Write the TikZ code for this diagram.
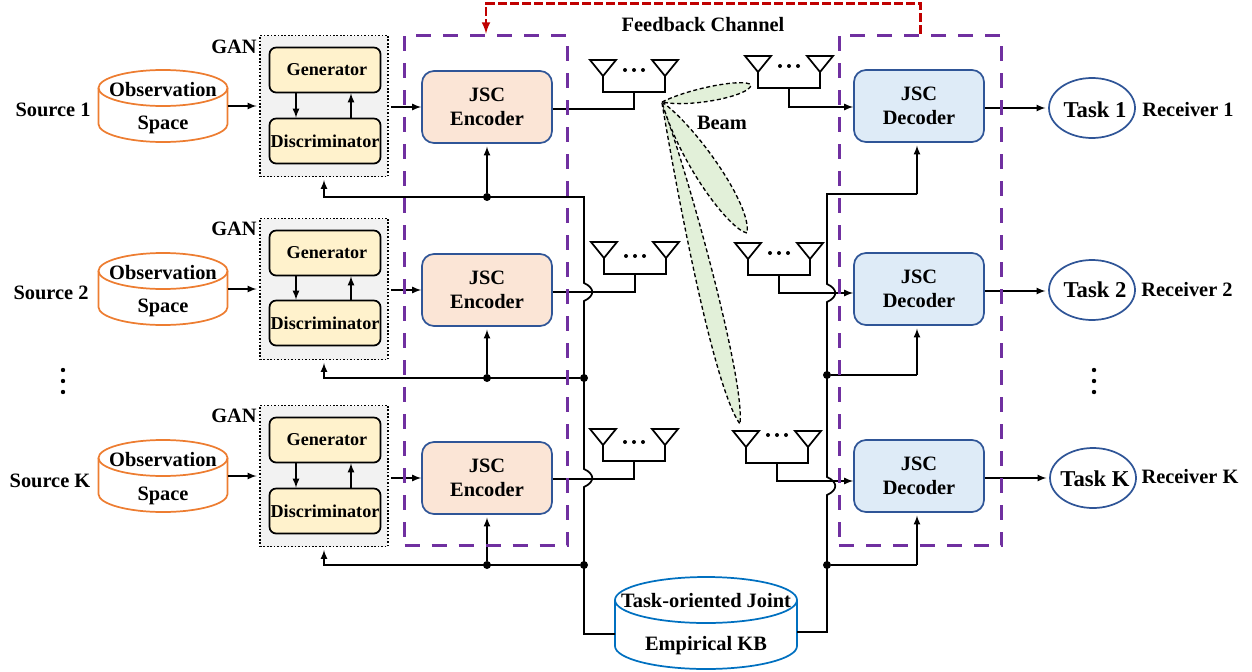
\documentclass[tikz,border=0pt]{standalone}
\usepackage{xcolor}
\usepackage{fontspec}
\setmainfont{Liberation Serif}
\usetikzlibrary{shapes, arrows, positioning, backgrounds}
\definecolor{obscol}{HTML}{ED7D31}
\definecolor{kbcol}{HTML}{0070C0}
\definecolor{boxcol}{HTML}{2F5597}
\definecolor{enccol}{HTML}{FBE5D6}
\definecolor{deccol}{HTML}{DEEBF7}
\definecolor{gencol}{HTML}{FFF2CC}
\definecolor{gancol}{HTML}{F2F2F2}
\definecolor{beamcol}{HTML}{E2F0D9}
\definecolor{jsccol}{HTML}{7030A0}
\definecolor{fbcol}{HTML}{C00000}
\begin{document}
\begin{tikzpicture}[x=0.75pt, y=-0.75pt, >=latex,
    lnk/.style={line width=1.3pt},
    txt/.style={font=\bfseries\fontsize{15.3}{18}\selectfont, inner sep=0pt},
    enc/.style={draw=boxcol, fill=enccol, line width=1.3pt, rounded corners=9pt, minimum width=97.5pt, minimum height=54pt, align=center, font=\bfseries\fontsize{15.3}{18.5}\selectfont, execute at begin node=\rule{0pt}{12pt}},
    dec/.style={enc, fill=deccol},
    gan/.style={draw, fill=gancol, line width=1.2pt, dash pattern=on 1.2pt off 1.4pt, minimum width=96pt, minimum height=105.75pt},
    gen/.style={draw, fill=gencol, line width=1.3pt, rounded corners=5pt, inner sep=0pt, minimum width=83.25pt, minimum height=33.75pt, font=\bfseries\fontsize{13.6}{16}\selectfont},
    task/.style={draw=boxcol, ellipse, line width=1.3pt, inner sep=0pt, minimum width=64.5pt, minimum height=45pt},
    tasktxt/.style={txt, font=\bfseries\fontsize{17}{20}\selectfont},
    jsc/.style={draw=jsccol, line width=2.2pt, dash pattern=on 11.25pt off 9pt, minimum width=122pt, minimum height=383pt},
    beam/.style={draw, fill=beamcol, densely dashed, line width=1pt},
    dot/.style={circle, fill, inner sep=0pt, minimum size=6pt},
    pics/store/.style n args={4}{code={
      \draw[lnk, draw=#4] (-#1,#3) -- (-#1,-#3) arc[start angle=180, end angle=360, x radius=#1, y radius=#2] -- (#1,#3);
      \draw[lnk, draw=#4] (0pt,#3) ellipse [x radius=#1, y radius=#2];
      \coordinate (-w) at (-#1,0pt);
      \coordinate (-e) at (#1,0pt);
    }},
    pics/antennas/.style={code={
      \draw[lnk] (-44,0) -- (-18,0) -- (-31,16) -- cycle;
      \draw[lnk] (18,0) -- (44,0) -- (31,16) -- cycle;
      \draw[lnk] (-31,16) -- (-31,32) -- (31,32) -- (31,16);
      \foreach \dx in {-9,0,9} \fill (\dx,#1) circle (2);
      \coordinate (-bar) at (0,32);
    }}]

  \useasboundingbox (0,0) rectangle (1252,671);

  \node[txt] (src_1) at (53,110) {Source 1};
  \node[txt] (src_2) at (51,293) {Source 2};
  \node[txt] (src_K) at (50,481) {Source K};

  \pic (obs_1) at (163,106) {store={48.4pt}{13.5pt}{13.5pt}{obscol}};
  \pic (obs_2) at (163,289) {store={48.4pt}{13.5pt}{13.5pt}{obscol}};
  \pic (obs_3) at (163,476) {store={48.4pt}{13.5pt}{13.5pt}{obscol}};
  \node[txt] (ot_1) at (163,90)  {Observation};
  \node[txt] (st_1) at (163,125) {Space};
  \node[txt] (ot_2) at (163,273) {Observation};
  \node[txt] (st_2) at (163,308) {Space};
  \node[txt] (ot_3) at (163,460) {Observation};
  \node[txt] (st_3) at (163,496) {Space};

  \node[gan] (gan_1) at (324,106) {};
  \node[gan] (gan_2) at (324,289) {};
  \node[gan] (gan_3) at (324,476) {};
  \node[txt] (gl_1) at (234,47)  {GAN};
  \node[txt] (gl_2) at (234,229) {GAN};
  \node[txt] (gl_3) at (234,416) {GAN};

  \node[gen] (gen_1) at (325,70)  {\hspace*{3pt}Generator};
  \node[gen] (dis_1) at (325,141) {Discriminator};
  \node[gen] (gen_2) at (325,253) {\hspace*{3pt}Generator};
  \node[gen] (dis_2) at (325,323) {Discriminator};
  \node[gen] (gen_3) at (325,440) {\hspace*{3pt}Generator};
  \node[gen] (dis_3) at (325,511) {Discriminator};

  \node[enc] (enc_1) at (487,107) {JSC\\Encoder};
  \node[enc] (enc_2) at (487,290) {JSC\\Encoder};
  \node[enc] (enc_3) at (487,478) {JSC\\Encoder};
  \node[dec] (dec_1) at (919,106) {JSC\\Decoder};
  \node[dec] (dec_2) at (919,289) {JSC\\Decoder};
  \node[dec] (dec_3) at (919,476) {JSC\\Decoder};

  \node[task] (task_1) at (1092,108) {};
  \node[task] (task_2) at (1092,290) {};
  \node[task] (task_3) at (1093,478) {};
  \node[tasktxt] (tt_1) at (1095,110) {Task 1};
  \node[tasktxt] (tt_2) at (1095,290) {Task 2};
  \node[tasktxt] (tt_3) at (1095,479) {Task K};
  \node[txt] (rcv_1) at (1188,110) {Receiver 1};
  \node[txt] (rcv_2) at (1187,290) {Receiver 2};
  \node[txt] (rcv_K) at (1190,477) {Receiver K};

  \pic (kb_0) at (706,623) {store={68.25pt}{17.25pt}{17.25pt}{kbcol}};
  \node[txt] (kt_1) at (706,601) {Task-oriented Joint};
  \node[txt] (kt_2) at (706,646) {Empirical KB};

  \draw[beam] (662,103) .. controls (680,210) and (715,390) .. (740,424)
    .. controls (745,380) and (690,180) .. (662,103) -- cycle;
  \draw[beam] (662,102) .. controls (695,125) and (752,205) .. (747,233)
    .. controls (730,230) and (680,165) .. (662,102) -- cycle;
  \draw[beam] (662,102) .. controls (690,88) and (745,78) .. (751,85)
    .. controls (750,96) and (690,108) .. (662,102) -- cycle;
  \node[txt] (bl_1) at (722,123) {Beam};
  \node[txt] (fb_1) at (703,25)  {Feedback Channel};

  \pic (tx_1) at (634,60)  {antennas=10};
  \pic (tx_2) at (635,242) {antennas=14};
  \pic (tx_3) at (634,429) {antennas=13};
  \pic (rx_1) at (789,56)  {antennas=10};
  \pic (rx_2) at (779,243) {antennas=10};
  \pic (rx_3) at (777,431) {antennas=4};

  \node[dot] (jl_2) at (584,378) {};
  \node[dot] (jl_3) at (584,565) {};
  \node[dot] (je_1) at (487,197) {};
  \node[dot] (je_2) at (487,378) {};
  \node[dot] (je_3) at (487,565) {};
  \node[dot] (jr_2) at (827,375) {};
  \node[dot] (jr_3) at (827,565) {};
  \coordinate (tl_1) at (584,197);
  \coordinate (tr_1) at (917,194);
  \coordinate (tr_2) at (917,375);
  \coordinate (tr_3) at (917,565);
  \coordinate (kb_w) at (615,634);
  \coordinate (kb_e) at (797,632);

  \path[lnk, ->, shorten >=2pt]
    (obs_1-e) edge (gan_1.west)
    (obs_2-e) edge (gan_2.west)
    (obs_3-e) edge (gan_3.west)
    (je_1) edge (enc_1.south)
    (je_2) edge (enc_2.south)
    (je_3) edge (enc_3.south)
    (tr_1) edge (tr_1 |- dec_1.south)
    (tr_2) edge (tr_2 |- dec_2.south)
    (tr_3) edge (tr_3 |- dec_3.south)
    ([yshift=-1.5pt]dec_1.east) edge (task_1.west)
    ([yshift=-1.5pt]dec_2.east) edge ([yshift=-0.75pt]task_2.west)
    ([yshift=-1.5pt]dec_3.east) edge (task_3.west);
  \path[lnk, ->, shorten <=1.5pt]
    (gan_1.east |- enc_1.west) edge (enc_1.west)
    (gan_2.east |- enc_2.west) edge (enc_2.west)
    (gan_3.east |- enc_3.west) edge (enc_3.west);
  \path[lnk, ->]
    (gen_1.south -| 296,0) edge (dis_1.north -| 296,0)
    (dis_1.north -| 351,0) edge (gen_1.south -| 351,0)
    (gen_2.south -| 296,0) edge (dis_2.north -| 296,0)
    (dis_2.north -| 351,0) edge (gen_2.south -| 351,0)
    (gen_3.south -| 296,0) edge (dis_3.north -| 296,0)
    (dis_3.north -| 351,0) edge (gen_3.south -| 351,0);

  \draw[lnk, ->, shorten >=2pt] (jl_2) -| (gan_2.south);
  \draw[lnk, ->, shorten >=2pt] (jl_3) -| (gan_3.south);
  \draw[lnk, ->, shorten >=2pt] (kb_w) -- (584,634) -- (584,487)
    .. controls (595,482) and (595,474) .. (584,469) -- (584,301)
    .. controls (595,296) and (595,288) .. (584,283) -- (tl_1) -| (gan_1.south);
  \draw[lnk] (kb_e) -- (827,632) -- (827,495)
    .. controls (838,490) and (838,482) .. (827,477) -- (827,302)
    .. controls (838,297) and (838,289) .. (827,284) -- (827,194) -- (tr_1);
  \draw[lnk] (jr_2) -- (tr_2);
  \draw[lnk] (jr_3) -- (tr_3);

  \draw[lnk] ([yshift=-1.5pt]enc_1.east) -| (tx_1-bar);
  \draw[lnk] ([yshift=-1.5pt]enc_2.east) -| (tx_2-bar);
  \draw[lnk] ([yshift=-0.75pt]enc_3.east) -| (tx_3-bar);
  \draw[lnk, ->] (rx_1-bar) |- ([yshift=-0.75pt]dec_1.west);
  \draw[lnk, ->] (rx_2-bar) |- ([yshift=-3pt]dec_2.west);
  \draw[lnk, ->] (rx_3-bar) |- ([yshift=-3.75pt]dec_3.west);

  \foreach \ypos in {370,381,392} {
    \fill (63,\ypos) circle (2.2);
    \fill (1094,\ypos) circle (2.2);
  }

  \node[jsc] (jsc_tx) at (486,290.5) {};
  \node[jsc] (jsc_rx) at (920.5,290.5) {};
  \draw[fbcol, line width=1.9pt, dash pattern=on 6.5pt off 2.5pt, ->] (jsc_rx.north) -- ++(0,-30) -| (jsc_tx.north);
\end{tikzpicture}
\end{document}
